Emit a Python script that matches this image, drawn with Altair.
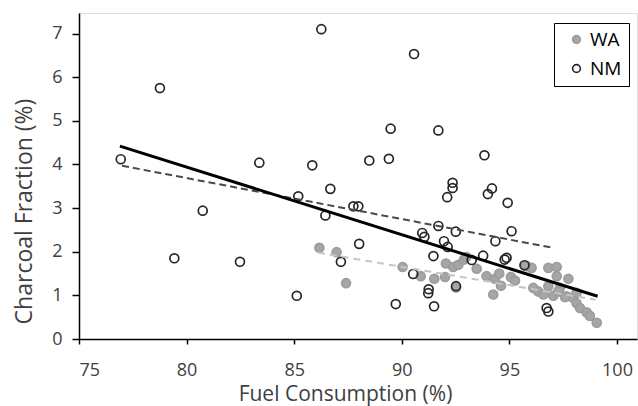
import altair as alt
import pandas as pd

# ---- data ----
wa_x = [86.17, 86.97, 87.41, 90.04, 90.88, 91.51, 92.01, 92.05, 92.39, 92.63,
        92.89, 92.52, 93.48, 93.94, 94.25, 94.33, 94.53, 94.61, 95.07, 95.26,
        95.80, 96.03, 96.11, 96.34, 96.81, 97.20, 96.58, 97.04, 97.20, 97.35,
        97.74, 97.66, 97.97, 98.12, 98.28, 98.59, 98.74, 99.06, 97.27, 98.12,
        96.81, 97.58, 93.00, 95.75]
wa_y = [2.09, 1.99, 1.28, 1.65, 1.44, 1.38, 1.42, 1.73, 1.65, 1.70,
        1.82, 1.18, 1.61, 1.44, 1.02, 1.38, 1.50, 1.22, 1.42, 1.34,
        1.67, 1.63, 1.17, 1.09, 1.63, 1.65, 1.02, 0.99, 1.44, 1.17,
        1.38, 0.98, 0.94, 0.82, 0.71, 0.61, 0.53, 0.37, 1.09, 1.06,
        1.21, 0.96, 1.88, 1.68]

nm_x = [76.94, 78.76, 79.43, 80.75, 82.48, 83.38, 85.12, 85.19, 85.84, 86.26,
        86.45, 86.68, 87.17, 87.75, 87.98, 88.02, 88.49, 89.40, 89.48, 89.72,
        90.57, 90.53, 90.95, 91.05, 91.25, 91.23, 91.47, 91.50, 91.70, 91.70,
        91.96, 92.13, 92.11, 92.36, 92.36, 92.51, 92.52, 93.25, 93.78, 93.84,
        94.00, 94.19, 94.35, 94.78, 94.87, 94.92, 95.10, 95.70, 96.73, 96.81]
nm_y = [4.12, 5.75, 1.85, 2.94, 1.77, 4.04, 0.99, 3.27, 3.98, 7.10,
        2.83, 3.44, 1.77, 3.04, 3.04, 2.18, 4.09, 4.13, 4.82, 0.80,
        6.53, 1.49, 2.43, 2.34, 1.14, 1.05, 1.90, 0.75, 4.78, 2.59,
        2.24, 2.11, 3.25, 3.58, 3.46, 2.46, 1.21, 1.81, 1.91, 4.21,
        3.32, 3.45, 2.24, 1.82, 1.86, 3.12, 2.47, 1.69, 0.71, 0.63]

# trend line end points
all_fit_x = [76.9, 99.1]
all_fit_y = [4.42, 0.98]
nm_fit_x = [77.0, 96.9]
nm_fit_y = [3.97, 2.10]
wa_fit_x = [86.1, 99.0]
wa_fit_y = [1.98, 0.90]

x_ticks = [75, 80, 85, 90, 95, 100]
y_ticks = [0, 1, 2, 3, 4, 5, 6, 7]
sites = ["WA", "NM"]

points = pd.DataFrame({
    "x": wa_x + nm_x,
    "y": wa_y + nm_y,
    "site": ["WA"] * len(wa_x) + ["NM"] * len(nm_x),
})

FONT = "Open Sans"
TXT = "#404040"

xscale = alt.Scale(domain=[75, 100.93], nice=False, zero=False)
yscale = alt.Scale(domain=[0, 7.47], nice=False, zero=True)

x_axis = alt.Axis(
    values=x_ticks, grid=False, title="Fuel Consumption (%)",
    domainColor="#000", domainWidth=1.5, tickColor="#000", tickWidth=1.5,
    tickSize=5, labelFontSize=18, labelColor=TXT, labelPadding=17,
    labelFont=FONT, titleFont=FONT, titleFontSize=21, titleColor=TXT,
    titleFontWeight="normal", titleX=266, titleY=61,
    titleBaseline="alphabetic", titleAlign="center",
)
y_axis = alt.Axis(
    values=y_ticks, grid=False, title="Charcoal Fraction (%)",
    domainColor="#000", domainWidth=1.5, tickColor="#000", tickWidth=1.5,
    tickSize=7, labelFontSize=18, labelColor=TXT, labelPadding=10,
    labelFont=FONT, titleFont=FONT, titleFontSize=23, titleColor=TXT,
    titleFontWeight="normal", titleAngle=-90, titleX=-55, titleY=198,
    titleBaseline="middle", titleAlign="center",
)

legend = alt.Legend(
    title=None, orient="none", legendX=475, legendY=10,
    strokeColor="#000", fillColor="white", padding=7,
    labelFontSize=19, labelFont=FONT, labelColor="#000",
    symbolSize=60, symbolStrokeWidth=1.6, rowPadding=9,
    labelOffset=4, symbolOffset=6,
)

pts = alt.Chart(points).mark_point(
    shape="circle", size=80, strokeWidth=1.7, opacity=1, filled=False
).encode(
    x=alt.X("x:Q", scale=xscale, axis=x_axis),
    y=alt.Y("y:Q", scale=yscale, axis=y_axis),
    fill=alt.Fill("site:N", scale=alt.Scale(domain=sites, range=["#a6a6a6", "transparent"]),
                  legend=legend, sort=sites),
    stroke=alt.Stroke("site:N", scale=alt.Scale(domain=sites, range=["#9c9c9c", "#262626"]),
                      legend=legend, sort=sites),
)

def fit_layer(xs, ys, color, width, dash=None):
    df = pd.DataFrame({"x": xs, "y": ys})
    kw = dict(color=color, strokeWidth=width)
    if dash:
        kw["strokeDash"] = dash
    return alt.Chart(df).mark_line(**kw).encode(
        x=alt.X("x:Q", scale=xscale), y=alt.Y("y:Q", scale=yscale)
    )

wa_line = fit_layer(wa_fit_x, wa_fit_y, "#c4c4c4", 2, [7, 5])
nm_line = fit_layer(nm_fit_x, nm_fit_y, "#4a4a4a", 2, [7, 4])
all_line = fit_layer(all_fit_x, all_fit_y, "#000000", 3)

chart = alt.layer(pts, wa_line, nm_line, all_line).properties(
    width=558, height=326,
    autosize=alt.AutoSizeParams(type="none"),
    padding={"left": 79, "top": 13, "right": 1, "bottom": 67},
).configure_view(
    stroke="#404040", strokeWidth=1.5
).configure(background="white")

chart.save("out.html", embed_options={"renderer": "svg", "actions": False})
